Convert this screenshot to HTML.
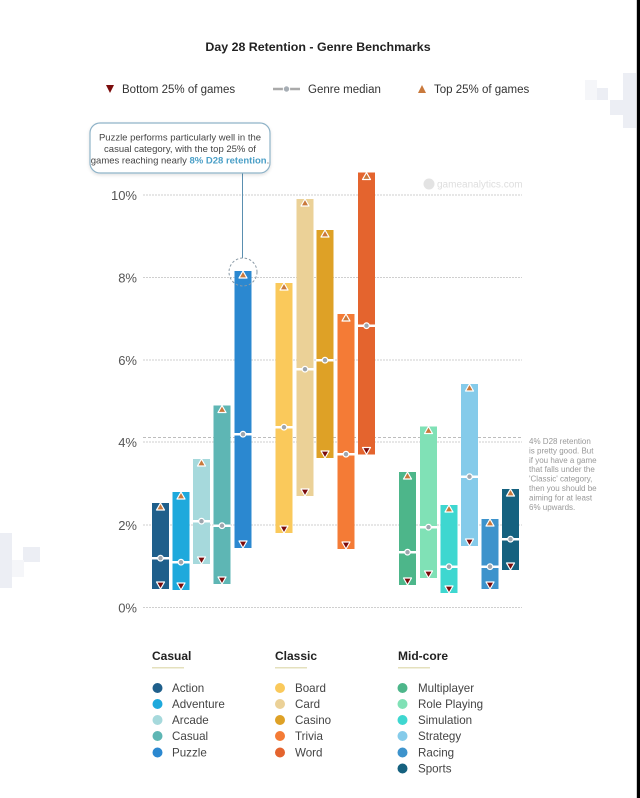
<!DOCTYPE html>
<html>
<head>
<meta charset="utf-8">
<style>
  html,body{margin:0;padding:0;background:#fff;}
  svg{display:block;}
  text{font-family:"Liberation Sans", Arial, sans-serif;}
</style>
</head>
<body>
<svg width="640" height="798" viewBox="0 0 640 798" xmlns="http://www.w3.org/2000/svg">
  <defs>
    <filter id="sh" x="-10%" y="-20%" width="120%" height="150%">
      <feDropShadow dx="0" dy="1.5" stdDeviation="1.5" flood-color="#000" flood-opacity="0.12"/>
    </filter>
  </defs>
  <rect width="640" height="798" fill="#fff"/>

  <!-- background pixel decorations -->
  <g fill="#eceef4">
    <rect x="623" y="73" width="13" height="55"/>
    <rect x="610" y="100" width="13" height="15"/>
    <rect x="597" y="88" width="11" height="12"/>
    <rect x="0" y="533" width="12" height="55"/>
    <rect x="23" y="547" width="17" height="15"/>
  </g>
  <g fill="#f5f6f9">
    <rect x="585" y="80" width="12" height="20"/>
    <rect x="12" y="560" width="12" height="17"/>
  </g>

  <!-- right edge -->
  <rect x="636" y="0" width="1" height="798" fill="#d0d0d0"/>
  <rect x="637" y="0" width="3" height="798" fill="#000"/>

  <!-- title -->
  <text x="318" y="51" text-anchor="middle" font-size="12.4" font-weight="bold" fill="#222">Day 28 Retention - Genre Benchmarks</text>

  <!-- top legend -->
  <polygon points="106,85 114,85 110,93" fill="#7b0c0c"/>
  <text x="122" y="93" font-size="11.5" fill="#333">Bottom 25% of games</text>
  <line x1="273" y1="89" x2="300" y2="89" stroke="#aaa" stroke-width="2.5"/>
  <circle cx="286.5" cy="89" r="3.2" fill="#a7aeb5" stroke="#fff" stroke-width="1"/>
  <text x="308" y="93" font-size="11.5" fill="#333">Genre median</text>
  <polygon points="418,93 426,93 422,85" fill="#c9793c"/>
  <text x="434" y="93" font-size="11.5" fill="#333">Top 25% of games</text>

  <!-- gridlines -->
  <g stroke="#cfcfcf" stroke-width="1" stroke-dasharray="2,1">
    <line x1="143" y1="195" x2="522" y2="195"/>
    <line x1="143" y1="277.5" x2="522" y2="277.5"/>
    <line x1="143" y1="360" x2="522" y2="360"/>
    <line x1="143" y1="442" x2="522" y2="442"/>
    <line x1="143" y1="525" x2="522" y2="525"/>
    <line x1="143" y1="607.5" x2="522" y2="607.5"/>
  </g>
  <line x1="143" y1="437.5" x2="522" y2="437.5" stroke="#bdbdbd" stroke-width="1" stroke-dasharray="3,2"/>

  <!-- y labels -->
  <g font-size="13" fill="#555" text-anchor="end">
    <text x="137" y="200">10%</text>
    <text x="137" y="282.5">8%</text>
    <text x="137" y="365">6%</text>
    <text x="137" y="447">4%</text>
    <text x="137" y="530">2%</text>
    <text x="137" y="612.5">0%</text>
  </g>

  <!-- watermark -->
  <circle cx="429" cy="184" r="5.5" fill="#e3e3e3"/>
  <text x="437" y="187.5" font-size="10" fill="#dedede">gameanalytics.com</text>

  <!-- bars -->
  <g id="bars">
    <rect x="152" y="503" width="17" height="86" fill="#1f5f8b"/>
    <rect x="172.5" y="492" width="17" height="98" fill="#1ea9dc"/>
    <rect x="193" y="459" width="17" height="105" fill="#a6d9dc"/>
    <rect x="213.5" y="405.5" width="17" height="178.5" fill="#5eb6b4"/>
    <rect x="234.5" y="271" width="17" height="277" fill="#2b88d0"/>
    <rect x="275.5" y="283" width="17" height="250" fill="#fac95b"/>
    <rect x="296.5" y="199" width="17" height="297" fill="#ebd197"/>
    <rect x="316.5" y="230" width="17" height="228" fill="#dea126"/>
    <rect x="337.5" y="314" width="17" height="235" fill="#f47b36"/>
    <rect x="358" y="172.5" width="17" height="282" fill="#e4642e"/>
    <rect x="399" y="472" width="17" height="113" fill="#4db68a"/>
    <rect x="420" y="426.5" width="17" height="151.5" fill="#80e1b6"/>
    <rect x="440.5" y="505" width="17" height="88" fill="#3ed7d0"/>
    <rect x="461" y="384" width="17" height="162" fill="#85cbea"/>
    <rect x="481.5" y="519" width="17" height="70" fill="#3d93cc"/>
    <rect x="502" y="489" width="17" height="81" fill="#15617f"/>
  </g>

  <!-- medians -->
  <g>
    <g fill="#fff">
      <rect x="152" y="557" width="17" height="2.5"/>
      <rect x="172.5" y="561" width="17" height="2.5"/>
      <rect x="193" y="520" width="17" height="2.5"/>
      <rect x="213.5" y="524.5" width="17" height="2.5"/>
      <rect x="234.5" y="433" width="17" height="2.5"/>
      <rect x="275.5" y="426" width="17" height="2.5"/>
      <rect x="296.5" y="368" width="17" height="2.5"/>
      <rect x="316.5" y="359" width="17" height="2.5"/>
      <rect x="337.5" y="453" width="17" height="2.5"/>
      <rect x="358" y="324.5" width="17" height="2.5"/>
      <rect x="399" y="551" width="17" height="2.5"/>
      <rect x="420" y="526" width="17" height="2.5"/>
      <rect x="440.5" y="565.5" width="17" height="2.5"/>
      <rect x="461" y="475.5" width="17" height="2.5"/>
      <rect x="481.5" y="565.5" width="17" height="2.5"/>
      <rect x="502" y="538" width="17" height="2.5"/>
    </g>
    <g fill="#9ea6ae" stroke="#fff" stroke-width="1.2">
      <circle cx="160.5" cy="558.2" r="2.8"/>
      <circle cx="181" cy="562.2" r="2.8"/>
      <circle cx="201.5" cy="521.2" r="2.8"/>
      <circle cx="222" cy="525.7" r="2.8"/>
      <circle cx="243" cy="434.2" r="2.8"/>
      <circle cx="284" cy="427.2" r="2.8"/>
      <circle cx="305" cy="369.2" r="2.8"/>
      <circle cx="325" cy="360.2" r="2.8"/>
      <circle cx="346" cy="454.2" r="2.8"/>
      <circle cx="366.5" cy="325.7" r="2.8"/>
      <circle cx="407.5" cy="552.2" r="2.8"/>
      <circle cx="428.5" cy="527.2" r="2.8"/>
      <circle cx="449" cy="566.7" r="2.8"/>
      <circle cx="469.5" cy="476.7" r="2.8"/>
      <circle cx="490" cy="566.7" r="2.8"/>
      <circle cx="510.5" cy="539.2" r="2.8"/>
    </g>
  </g>

  <!-- top markers -->
  <g fill="#c9793c" stroke="#fff" stroke-width="1.2" stroke-linejoin="round">
    <polygon points="156.5,510 164.5,510 160.5,503"/>
    <polygon points="177,499 185,499 181,492"/>
    <polygon points="197.5,466 205.5,466 201.5,459"/>
    <polygon points="218,412.5 226,412.5 222,405.5"/>
    <polygon points="239,278 247,278 243,271"/>
    <polygon points="280,290 288,290 284,283"/>
    <polygon points="301,206 309,206 305,199"/>
    <polygon points="321,237 329,237 325,230"/>
    <polygon points="342,321 350,321 346,314"/>
    <polygon points="362.5,179.5 370.5,179.5 366.5,172.5"/>
    <polygon points="403.5,479 411.5,479 407.5,472"/>
    <polygon points="424.5,433.5 432.5,433.5 428.5,426.5"/>
    <polygon points="445,512 453,512 449,505"/>
    <polygon points="465.5,391 473.5,391 469.5,384"/>
    <polygon points="486,526 494,526 490,519"/>
    <polygon points="506.5,496 514.5,496 510.5,489"/>
  </g>

  <!-- bottom markers -->
  <g fill="#7b0c0c" stroke="#fff" stroke-width="1.2" stroke-linejoin="round">
    <polygon points="156.5,582 164.5,582 160.5,589"/>
    <polygon points="177,583 185,583 181,590"/>
    <polygon points="197.5,557 205.5,557 201.5,564"/>
    <polygon points="218,577 226,577 222,584"/>
    <polygon points="239,541 247,541 243,548"/>
    <polygon points="280,526 288,526 284,533"/>
    <polygon points="301,489 309,489 305,496"/>
    <polygon points="321,451 329,451 325,458"/>
    <polygon points="342,542 350,542 346,549"/>
    <polygon points="362.5,447.5 370.5,447.5 366.5,454.5"/>
    <polygon points="403.5,578 411.5,578 407.5,585"/>
    <polygon points="424.5,571 432.5,571 428.5,578"/>
    <polygon points="445,586 453,586 449,593"/>
    <polygon points="465.5,539 473.5,539 469.5,546"/>
    <polygon points="486,582 494,582 490,589"/>
    <polygon points="506.5,563 514.5,563 510.5,570"/>
  </g>

  <!-- callout -->
  <line x1="242.5" y1="173" x2="242.5" y2="258" stroke="#5a8fb0" stroke-width="1"/>
  <circle cx="243" cy="272" r="14" fill="none" stroke="#8a9aa6" stroke-width="1" stroke-dasharray="2.5,2"/>
  <rect x="90" y="123" width="180" height="50" rx="10" ry="10" fill="#fff" stroke="#8fb3c8" stroke-width="1.2" filter="url(#sh)"/>
  <g font-size="9.5" fill="#444" text-anchor="middle">
    <text x="180" y="140.5">Puzzle performs particularly well in the</text>
    <text x="180" y="152">casual category, with the top 25% of</text>
    <text x="180" y="163.5">games reaching nearly <tspan fill="#4a9fc7" font-weight="bold">8% D28 retention</tspan>.</text>
  </g>

  <!-- right annotation -->
  <g font-size="8" fill="#999">
    <text x="529" y="444">4% D28 retention</text>
    <text x="529" y="453.4">is pretty good. But</text>
    <text x="529" y="462.8">if you have a game</text>
    <text x="529" y="472.2">that falls under the</text>
    <text x="529" y="481.6">'Classic' category,</text>
    <text x="529" y="491">then you should be</text>
    <text x="529" y="500.4">aiming for at least</text>
    <text x="529" y="509.8">6% upwards.</text>
  </g>

  <!-- bottom legend -->
  <g font-size="12" font-weight="bold" fill="#222">
    <text x="152" y="660">Casual</text>
    <text x="275" y="660">Classic</text>
    <text x="398" y="660">Mid-core</text>
  </g>
  <g fill="#e4e0bd">
    <rect x="152" y="667" width="32" height="1.5"/>
    <rect x="275" y="667" width="32" height="1.5"/>
    <rect x="398" y="667" width="32" height="1.5"/>
  </g>
  <g font-size="11.6" fill="#444">
    <circle cx="157.5" cy="688" r="5" fill="#1f5f8b"/><text x="172" y="692">Action</text>
    <circle cx="157.5" cy="704" r="5" fill="#1ea9dc"/><text x="172" y="708">Adventure</text>
    <circle cx="157.5" cy="720" r="5" fill="#a6d9dc"/><text x="172" y="724">Arcade</text>
    <circle cx="157.5" cy="736" r="5" fill="#5eb6b4"/><text x="172" y="740">Casual</text>
    <circle cx="157.5" cy="752.5" r="5" fill="#2b88d0"/><text x="172" y="756.5">Puzzle</text>

    <circle cx="280" cy="688" r="5" fill="#fac95b"/><text x="295" y="692">Board</text>
    <circle cx="280" cy="704" r="5" fill="#ebd197"/><text x="295" y="708">Card</text>
    <circle cx="280" cy="720" r="5" fill="#dea126"/><text x="295" y="724">Casino</text>
    <circle cx="280" cy="736" r="5" fill="#f47b36"/><text x="295" y="740">Trivia</text>
    <circle cx="280" cy="752.5" r="5" fill="#e4642e"/><text x="295" y="756.5">Word</text>

    <circle cx="402.5" cy="688" r="5" fill="#4db68a"/><text x="418" y="692">Multiplayer</text>
    <circle cx="402.5" cy="704" r="5" fill="#80e1b6"/><text x="418" y="708">Role Playing</text>
    <circle cx="402.5" cy="720" r="5" fill="#3ed7d0"/><text x="418" y="724">Simulation</text>
    <circle cx="402.5" cy="736" r="5" fill="#85cbea"/><text x="418" y="740">Strategy</text>
    <circle cx="402.5" cy="752.5" r="5" fill="#3d93cc"/><text x="418" y="756.5">Racing</text>
    <circle cx="402.5" cy="768.5" r="5" fill="#15617f"/><text x="418" y="772.5">Sports</text>
  </g>
</svg>
</body>
</html>
